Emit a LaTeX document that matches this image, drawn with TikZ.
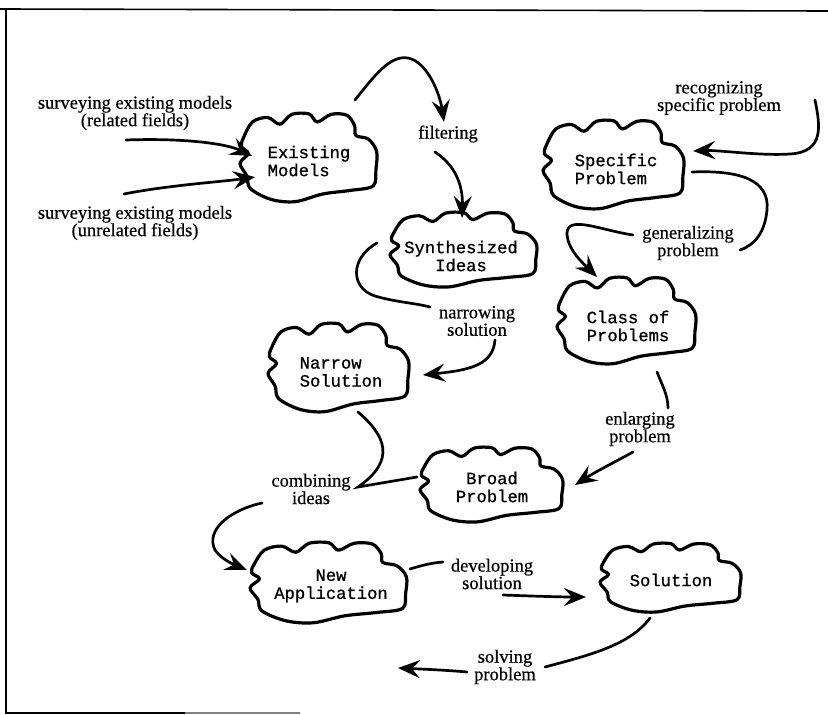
\documentclass[tikz,border=0pt]{standalone}
\usepackage{fontspec}
\setmainfont{Liberation Serif}
\setmonofont{Liberation Mono}
\newfontfamily\lblfont{Liberation Serif}[FakeBold=0.5]
\newfontfamily\cldfont{Liberation Mono}[FakeBold=0.9]
\usetikzlibrary{arrows.meta}
\newcommand\blob[4]{\draw[cloudline,shift={(#1,#2)},xscale=#3,yscale=#4] plot[smooth cycle,tension=0.55] coordinates{(-0.95,-0.45) (-0.82,-0.8) (-0.6,-0.9) (-0.42,-0.75) (-0.25,-0.97) (0.0,-0.98) (0.12,-0.8) (0.32,-0.97) (0.55,-0.95) (0.66,-0.72) (0.68,-0.5) (0.86,-0.42) (0.98,-0.15) (0.97,0.25) (0.93,0.62) (0.6,0.72) (0.2,0.8) (-0.2,0.97) (-0.55,0.92) (-0.85,0.68) (-0.9,0.4) (-1.0,0.12) (-0.88,-0.1) (-0.98,-0.25)};}
\begin{document}
\begin{tikzpicture}[x=1pt,y=-1pt,
  lbl/.style={font=\lblfont\fontsize{18.5}{17.5}\selectfont, align=center, inner sep=0pt},
  ctext/.style={font=\cldfont\fontsize{17.2}{18}\selectfont, inner sep=0pt},
  cloudline/.style={line width=3.2pt, line join=round},
  conn/.style={line width=2.7pt, line cap=round},
  arr/.style={conn, -{Stealth[length=22pt,width=18pt,inset=8pt]}},
  frame/.style={line width=1.6pt}]
\useasboundingbox (0,0) rectangle (828,715);
% frame
\draw[frame] (0,9) -- (828,11);
\draw[frame] (6,9) -- (6,713) -- (185,713);
\draw[frame,gray] (185,713) -- (300,713);
% clouds
\blob{309}{158}{69}{45}
\blob{464}{250}{74}{38}
\blob{614}{165}{71}{45}
\blob{627}{321}{70}{44}
\blob{339}{368}{71}{45}
\blob{492}{485}{72}{38}
\blob{329}{583}{79}{41}
\blob{671}{578}{71}{35}
% cloud texts
\node[ctext,align=left] (em) at (309,161) {Existing\\Models};
\node[ctext,align=center] (si) at (461,256) {Synthesized\\Ideas};
\node[ctext,align=left] (sp) at (616,169) {Specific\\Problem};
\node[ctext,align=left] (cp) at (628,326) {Class of\\Problems};
\node[ctext,align=left] (ns) at (341,372) {Narrow\\Solution};
\node[ctext,align=center] (bp) at (492,487) {Broad\\Problem};
\node[ctext,align=center] (na) at (331,586) {New\\Application};
\node[ctext] (so) at (671,580) {Solution};
% labels
\node[lbl] (l1) at (135,113) {surveying existing models\\(related fields)};
\node[lbl] (l2) at (135,223) {surveying existing models\\(unrelated fields)};
\node[lbl] (lf) at (448,134) {filtering};
\node[lbl] (lr) at (719,98) {recognizing\\specific problem};
\node[lbl] (lg) at (688,243) {generalizing\\problem};
\node[lbl] (ln) at (477,321) {narrowing\\solution};
\node[lbl] (le) at (640,429) {enlarging\\problem};
\node[lbl] (lc) at (311,489) {combining\\ideas};
\node[lbl] (ld) at (492,574) {developing\\solution};
\node[lbl] (lv) at (505,667) {solving\\problem};
% connector end points
\coordinate (a1s) at (126,140); \coordinate (a1e) at (252,156);
\coordinate (a2s) at (124,194); \coordinate (a2e) at (255,177);
\coordinate (a3s) at (355,100); \coordinate (a3e) at (444,122);
\coordinate (a4s) at (435,152); \coordinate (a4e) at (462,218);
\coordinate (a5s) at (815,100); \coordinate (a5e) at (693,151);
\coordinate (a6s) at (692,172); \coordinate (a6e) at (740,250);
\coordinate (a7s) at (633,235); \coordinate (a7e) at (597,277);
\coordinate (a8s) at (377,243); \coordinate (a8e) at (430,307);
\coordinate (a9s) at (495,340); \coordinate (a9e) at (423,375);
\coordinate (a10s) at (657,372); \coordinate (a10e) at (668,408);
\coordinate (a11s) at (633,452); \coordinate (a11e) at (575,485);
\coordinate (a12s) at (358,412); \coordinate (a12m) at (358,487); \coordinate (a12e) at (417,477);
\coordinate (a13s) at (262,503); \coordinate (a13e) at (247,570);
\coordinate (a14s) at (410,569); \coordinate (a14e) at (443,562);
\coordinate (a15s) at (503,595); \coordinate (a15e) at (586,597);
\coordinate (a16s) at (650,618); \coordinate (a16e) at (545,667);
\coordinate (a17s) at (467,672); \coordinate (a17e) at (398,668);
% connectors
\draw[arr] (a1s) .. controls (180,138) and (225,143) .. (a1e);
\draw[arr] (a2s) .. controls (170,185) and (220,182) .. (a2e);
\draw[arr] (a3s) .. controls (375,75) and (390,55) .. (408,58) .. controls (428,62) and (440,95) .. (a3e);
\draw[arr] (a4s) .. controls (455,165) and (463,185) .. (a4e);
\draw[arr] (a5s) .. controls (820,125) and (825,152) .. (790,154) .. controls (760,156) and (720,150) .. (a5e);
\draw[conn] (a6s) .. controls (740,170) and (770,180) .. (767,210) .. controls (765,232) and (755,245) .. (a6e);
\draw[arr] (a7s) .. controls (600,230) and (568,215) .. (567,233) .. controls (567,250) and (585,265) .. (a7e);
\draw[conn] (a8s) .. controls (350,258) and (350,288) .. (375,296) .. controls (395,302) and (415,303) .. (a8e);
\draw[arr] (a9s) .. controls (493,365) and (470,370) .. (a9e);
\draw[conn] (a10s) .. controls (662,385) and (668,395) .. (a10e);
\draw[arr] (a11s) .. controls (615,462) and (595,472) .. (a11e);
\draw[conn] (a12s) .. controls (385,435) and (397,460) .. (a12m) -- (a12e);
\draw[arr] (a13s) .. controls (230,510) and (205,530) .. (215,550) .. controls (222,560) and (235,565) .. (a13e);
\draw[conn] (a14s) .. controls (420,566) and (430,563) .. (a14e);
\draw[arr] (a15s) .. controls (530,596) and (560,597) .. (a15e);
\draw[conn] (a16s) .. controls (630,645) and (590,655) .. (a16e);
\draw[arr] (a17s) .. controls (445,670) and (420,669) .. (a17e);
\end{tikzpicture}
\end{document}
